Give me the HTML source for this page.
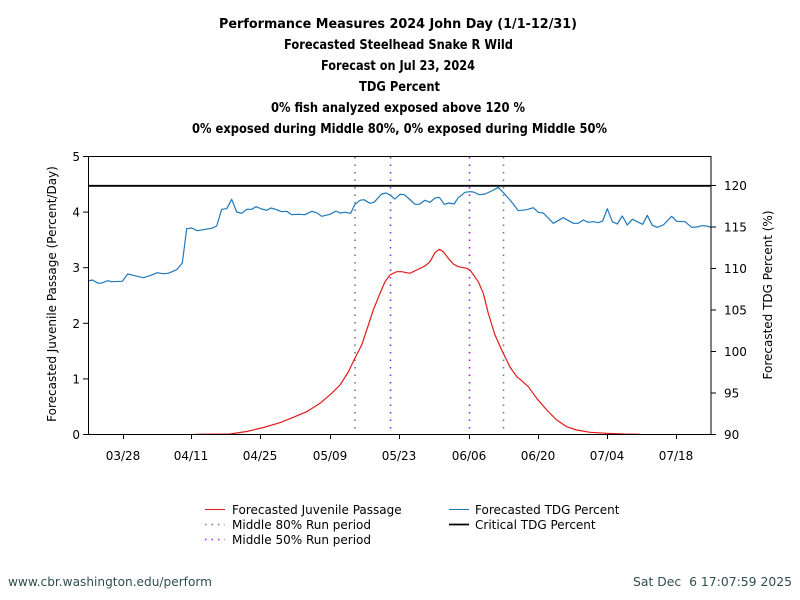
<!DOCTYPE html>
<html>
<head>
<meta charset="utf-8">
<style>
html,body{margin:0;padding:0;background:#fff;}
svg{display:block;}
text{font-family:"DejaVu Sans","Liberation Sans",sans-serif;}
</style>
</head>
<body>
<svg width="800" height="600" viewBox="0 0 800 600" xmlns="http://www.w3.org/2000/svg">
<rect width="800" height="600" fill="#fff"/>
<!-- Titles -->
<g font-weight="bold" font-size="13" text-anchor="middle" fill="#000">
<text x="398" y="28" textLength="358" lengthAdjust="spacingAndGlyphs">Performance Measures 2024 John Day (1/1-12/31)</text>
<text x="398.5" y="49" textLength="229" lengthAdjust="spacingAndGlyphs">Forecasted Steelhead Snake R Wild</text>
<text x="398" y="70" textLength="154" lengthAdjust="spacingAndGlyphs">Forecast on Jul 23, 2024</text>
<text x="399.5" y="91" textLength="81" lengthAdjust="spacingAndGlyphs">TDG Percent</text>
<text x="398" y="112" textLength="254" lengthAdjust="spacingAndGlyphs">0% fish analyzed exposed above 120 %</text>
<text x="399.5" y="133" textLength="415" lengthAdjust="spacingAndGlyphs">0% exposed during Middle 80%, 0% exposed during Middle 50%</text>
</g>

<!-- Run period lines -->
<g stroke-width="1.6" fill="none">
<line x1="355" y1="157" x2="355" y2="434" stroke="#777" stroke-dasharray="1.5 6"/>
<line x1="503.5" y1="157" x2="503.5" y2="434" stroke="#777" stroke-dasharray="1.5 6"/>
<line x1="390.5" y1="157" x2="390.5" y2="434" stroke="#a020f0" stroke-dasharray="1.5 6"/>
<line x1="469.5" y1="157" x2="469.5" y2="434" stroke="#a020f0" stroke-dasharray="1.5 6"/>
</g>

<!-- Critical TDG line -->
<line x1="88" y1="185.8" x2="711" y2="185.8" stroke="#000" stroke-width="1.8"/>

<!-- Blue TDG series -->
<polyline fill="none" stroke="#1f78b8" stroke-width="1.2" stroke-linejoin="round" points="88,281 92.3,280 98.3,283.3 101.7,283 107.7,280.7 111.7,281.7 122.3,281.3 127.7,274 133.3,275.3 143.3,277.7 150,275.7 157.3,272.7 162.7,273.7 168.3,273.3 176.7,269.7 182.3,263 186.7,228.7 191.7,228 197.3,230.7 211.7,228.3 216.7,226 221.7,209.3 226.7,208.7 231.7,199.3 236.7,212 241.7,213.3 246.7,209.3 251.7,209.3 256,206.7 261.7,209 266.7,210.3 271,208 276.7,209.7 281.7,211.7 286.7,211.3 291.7,214.7 298.3,214.3 305,214.7 311.7,211.3 316.7,212.7 321.7,216.3 330,214.3 336,211 340,213 345,212.3 350.7,213.3 355,204.3 360,200.3 364,199.7 370,203.3 374,202.3 381.7,194 386,193 390,195 395,199 400,194.3 404.3,194.7 409.3,199 415,204.3 419.3,204.3 425,200.3 430,202.3 435,198 439.3,197.3 444.3,204.3 449,203 454,204 458.3,197.7 465,192.3 470,191.7 473.3,192 479.3,194.7 485,194 491.7,191 498.3,187.3 504,193.3 510,200 514,205 518.3,210.7 526.7,209.7 533.3,207.7 538.3,212.3 543.3,213 553.3,223.3 563.3,217.7 573.3,223.3 578.3,223.3 583.3,220 588.3,222.3 593.3,221.7 598.3,222.7 602.7,221 607.3,208.7 612.3,221.7 617.3,224 622.3,216 627.3,225 632.3,219.3 637.3,221.7 642.7,224.3 647.3,215.3 652.3,225.3 657.3,227.3 663.3,225 671.7,216.3 676.7,221.3 685,221.7 691.7,227.3 696.7,227 701.7,225.7 706.7,226 710.7,227.3"/>

<!-- Red passage series -->
<polyline fill="none" stroke="#e01b1b" stroke-width="1.2" stroke-linejoin="round" points="195,434.3 230,434 246.7,431.5 261.7,428 280,422.7 293.3,417.3 306.7,411.7 320,403.3 331.7,393.3 340,385 348.3,372 355,358 361.7,345 366.7,330 373.3,310 380,293.3 385,281.7 390,275 396.7,271.7 401.7,271.7 410,273.3 416.7,270 425,266 430,261.7 435,252.7 439.3,249.3 443.3,251.7 448.3,258.3 453.3,264 458.3,266.7 466.7,268.3 470,270 478.3,281.7 483.3,293.3 488.3,313.3 495,335 501.7,350 510,367 516.7,376.7 521.7,380.7 528.3,386.7 536.7,398.3 546.7,410 556.7,420 566.7,426.7 576.7,430 590,432.3 606.7,433.3 623.3,434 640,434.3"/>

<!-- Frame -->
<rect x="88.5" y="156.5" width="622.5" height="278" fill="none" stroke="#000" stroke-width="1"/>

<!-- Left ticks -->
<g stroke="#000" stroke-width="1">
<line x1="83" y1="434.5" x2="88" y2="434.5"/>
<line x1="83" y1="378.9" x2="88" y2="378.9"/>
<line x1="83" y1="323.3" x2="88" y2="323.3"/>
<line x1="83" y1="267.7" x2="88" y2="267.7"/>
<line x1="83" y1="212.1" x2="88" y2="212.1"/>
<line x1="83" y1="156.5" x2="88" y2="156.5"/>
</g>
<g font-size="12" text-anchor="end" fill="#000">
<text x="80" y="439">0</text>
<text x="80" y="383.5">1</text>
<text x="80" y="328">2</text>
<text x="80" y="272">3</text>
<text x="80" y="216.5">4</text>
<text x="80" y="161">5</text>
</g>

<!-- Right ticks -->
<g stroke="#000" stroke-width="1">
<line x1="711" y1="434.5" x2="716" y2="434.5"/>
<line x1="711" y1="393" x2="716" y2="393"/>
<line x1="711" y1="351.5" x2="716" y2="351.5"/>
<line x1="711" y1="310" x2="716" y2="310"/>
<line x1="711" y1="268.5" x2="716" y2="268.5"/>
<line x1="711" y1="227" x2="716" y2="227"/>
<line x1="711" y1="185.5" x2="716" y2="185.5"/>
</g>
<g font-size="12" text-anchor="start" fill="#000">
<text x="724" y="439">90</text>
<text x="724" y="397.5">95</text>
<text x="724" y="356">100</text>
<text x="724" y="314.5">105</text>
<text x="724" y="273">110</text>
<text x="724" y="231.5">115</text>
<text x="724" y="190">120</text>
</g>

<!-- Bottom ticks -->
<g stroke="#000" stroke-width="1">
<line x1="123.5" y1="434" x2="123.5" y2="439"/>
<line x1="191.5" y1="434" x2="191.5" y2="439"/>
<line x1="260.5" y1="434" x2="260.5" y2="439"/>
<line x1="330.5" y1="434" x2="330.5" y2="439"/>
<line x1="399.5" y1="434" x2="399.5" y2="439"/>
<line x1="469.5" y1="434" x2="469.5" y2="439"/>
<line x1="538.5" y1="434" x2="538.5" y2="439"/>
<line x1="607.5" y1="434" x2="607.5" y2="439"/>
<line x1="676.5" y1="434" x2="676.5" y2="439"/>
</g>
<g font-size="12" text-anchor="middle" fill="#000">
<text x="123" y="460">03/28</text>
<text x="191" y="460">04/11</text>
<text x="260" y="460">04/25</text>
<text x="330" y="460">05/09</text>
<text x="399" y="460">05/23</text>
<text x="469" y="460">06/06</text>
<text x="538" y="460">06/20</text>
<text x="607" y="460">07/04</text>
<text x="676" y="460">07/18</text>
</g>

<!-- Axis titles -->
<text font-size="12" text-anchor="middle" transform="translate(56,294) rotate(-90)">Forecasted Juvenile Passage (Percent/Day)</text>
<text font-size="12" text-anchor="middle" transform="translate(772,295) rotate(-90)">Forecasted TDG Percent (%)</text>

<!-- Legend -->
<line x1="205" y1="509.5" x2="225" y2="509.5" stroke="#e01b1b" stroke-width="1"/>
<line x1="205" y1="524.5" x2="225" y2="524.5" stroke="#777" stroke-width="1.5" stroke-dasharray="1.5 5"/>
<line x1="205" y1="539.5" x2="225" y2="539.5" stroke="#a020f0" stroke-width="1.5" stroke-dasharray="1.5 5"/>
<line x1="449" y1="509.5" x2="469" y2="509.5" stroke="#1f78b8" stroke-width="1"/>
<line x1="449" y1="524.5" x2="469" y2="524.5" stroke="#000" stroke-width="1.8"/>
<g font-size="12" fill="#000">
<text x="232" y="514">Forecasted Juvenile Passage</text>
<text x="232" y="529">Middle 80% Run period</text>
<text x="232" y="544">Middle 50% Run period</text>
<text x="475" y="514">Forecasted TDG Percent</text>
<text x="475" y="529">Critical TDG Percent</text>
</g>

<!-- Footer -->
<g font-size="12" fill="#2f4f4f">
<text x="8" y="586" textLength="204" lengthAdjust="spacingAndGlyphs">www.cbr.washington.edu/perform</text>
<text x="792" y="586" text-anchor="end" textLength="159" lengthAdjust="spacingAndGlyphs" xml:space="preserve">Sat Dec  6 17:07:59 2025</text>
</g>
</svg>
</body>
</html>
